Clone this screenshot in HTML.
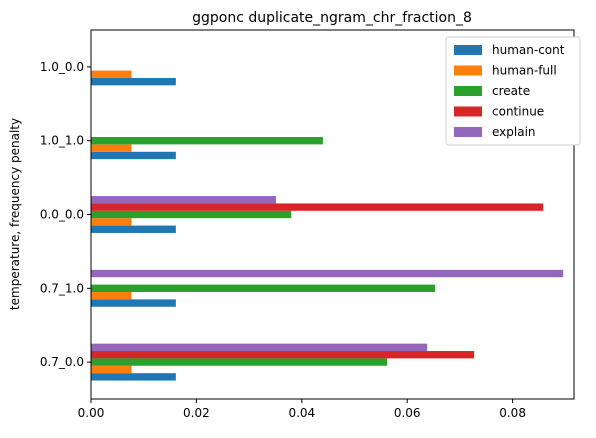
<!DOCTYPE html>
<html><head><meta charset="utf-8"><style>
body{margin:0;background:#fff;}
svg text{font-family:"DejaVu Sans","Liberation Sans",sans-serif;fill:#000;}
</style></head><body>
<svg id="chart" width="596" height="433" xmlns="http://www.w3.org/2000/svg">
<rect width="596" height="433" fill="#fff"/>
<text x="332" y="22" font-size="14" text-anchor="middle">ggponc duplicate_ngram_chr_fraction_8</text>
<g id="bars"></g>
<g id="axes"></g>
<text transform="translate(19,214) rotate(-90)" font-size="12" text-anchor="middle">temperature, frequency penalty</text>
<g id="legend"></g>
</svg>
<script>
const categories = ["0.7_0.0","0.7_1.0","0.0_0.0","1.0_1.0","1.0_0.0"];
const seriesNames = ["human-cont","human-full","create","continue","explain"];
const humanCont = [0.0161,0.0161,0.0161,0.0161,0.0161];
const humanFull = [0.0077,0.0077,0.0077,0.0077,0.0077];
const create = [0.0562,0.0653,0.038,0.044,0];
const cont = [0.0727,0,0.0858,0,0];
const explain = [0.0638,0.0896,0.0351,0,0];
const xTicks = [0,0.02,0.04,0.06,0.08];
const xTickLabels = ["0.00","0.02","0.04","0.06","0.08"];

const colors = ["#1f77b4","#ff7f0e","#2ca02c","#d62728","#9467bd"];
const series = [humanCont,humanFull,create,cont,explain];
const L=91,R=574,T=30,B=399, XMAX=(R-L)/5270;
const ns="http://www.w3.org/2000/svg";
const xs=v=>L+v/XMAX*(R-L);
const ys=p=>B-(p+0.5)/categories.length*(B-T);
function mk(tag,attrs,parent){const e=document.createElementNS(ns,tag);for(const k in attrs)e.setAttribute(k,attrs[k]);parent.appendChild(e);return e;}
const bars=document.getElementById('bars'), axes=document.getElementById('axes'), leg=document.getElementById('legend');
const bw=0.1;
series.forEach((s,si)=>{
  s.forEach((v,ci)=>{
    if(!v) return;
    const pc=ci-0.25+si*bw;
    const y1=ys(pc+bw), y2=ys(pc);
    const r=mk('rect',{x:xs(0),y:y1,width:xs(v)-xs(0),height:y2-y1,fill:colors[si]},bars);
    
    
  });
});
const frame=mk('rect',{x:L,y:T,width:R-L,height:B-T,fill:'none',stroke:'#000','stroke-width':1},axes);


xTicks.forEach((t,i)=>{
  const x=xs(t);
  mk('line',{x1:x,x2:x,y1:B,y2:B+4,stroke:'#000'},axes);
  const tx=mk('text',{x:x,y:B+18,'font-size':12,'text-anchor':'middle'},axes);
  tx.textContent=xTickLabels[i];
  
  
});
categories.forEach((c,i)=>{
  const y=ys(i);
  mk('line',{x1:L-4,x2:L,y1:y,y2:y,stroke:'#000'},axes);
  const tx=mk('text',{x:L-7,y:y+4,'font-size':12,'text-anchor':'end'},axes);
  tx.textContent=c;
  
  
});
const lb=mk('rect',{x:446,y:37,width:134,height:108,rx:3,fill:'#fff',stroke:'#ccc'},leg);


seriesNames.forEach((n,i)=>{
  const y=48+i*20.5;
  const g=mk('g',{},leg);
  
  
  mk('rect',{x:454,y:y-3,width:28,height:10,fill:colors[i]},g);
  const t=mk('text',{x:492,y:y+6,'font-size':12},g);
  t.textContent=n;
});
</script>
</body></html>
